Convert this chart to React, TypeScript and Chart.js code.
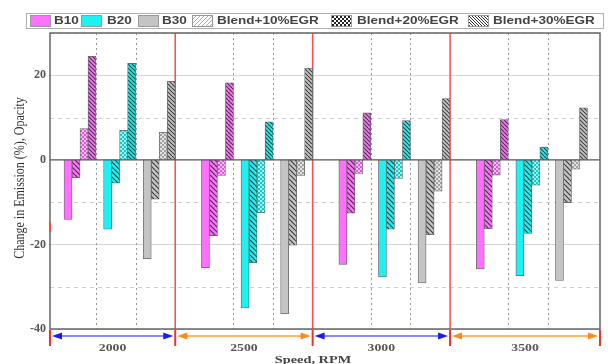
import React, { useEffect, useRef } from 'react';
import { Chart, registerables } from 'chart.js';
Chart.register(...registerables);

// ---- data ----
const speeds = ['2000', '2500', '3000', '3500'];
const fuels = ['B10', 'B20', 'B30'];
const seriesLabels = ['Blend', 'Blend+10%EGR', 'Blend+20%EGR', 'Blend+30%EGR'];
// values ordered: speed 2000 (B10,B20,B30), 2500 (...), 3000 (...), 3500 (...)
const blendOnly = [-14.1, -16.4, -23.4, -25.5, -35.0, -36.4, -24.7, -27.7, -29.1, -25.8, -27.4, -28.5];
const blendEgr10 = [-4.2, -5.5, -9.3, -17.9, -24.3, -20.2, -12.6, -16.4, -17.7, -16.3, -17.4, -10.1];
const blendEgr20 = [7.4, 7.0, 6.5, -3.7, -12.5, -3.7, -3.2, -4.4, -7.4, -3.6, -6.0, -2.2];
const blendEgr30 = [24.5, 22.8, 18.6, 18.2, 9.0, 21.7, 11.1, 9.3, 14.5, 9.5, 3.0, 12.3];
const yMin = -40;
const yMax = 30;
const yStep = 10;

// ---- styling / layout ----
const fuelColors = ['#ff70ff', '#1cf2f2', '#c4c4c4'];
const GROUP_STEP = 3.47;
const X_MIN = -0.758;
const X_MAX = 13.13;
const BAR_PX = 8;

function makeCanvas(s: number) {
  const c = document.createElement('canvas');
  c.width = s;
  c.height = s;
  return c;
}

function hatchPattern(base: string | null, s: number, color: string, lw: number, dir: 'back' | 'fwd') {
  const c = makeCanvas(s);
  const x = c.getContext('2d')!;
  if (base) {
    x.fillStyle = base;
    x.fillRect(0, 0, s, s);
  } else {
    x.fillStyle = '#fff';
    x.fillRect(0, 0, s, s);
  }
  x.strokeStyle = color;
  x.lineWidth = lw;
  x.beginPath();
  for (let k = -1; k <= 2; k++) {
    if (dir === 'back') {
      x.moveTo(0, k * s);
      x.lineTo(s, k * s + s);
    } else {
      x.moveTo(0, k * s);
      x.lineTo(s, k * s - s);
    }
  }
  x.stroke();
  return x.createPattern(c, 'repeat')!;
}

function checkerPattern(base: string, light: boolean) {
  const c = makeCanvas(4);
  const x = c.getContext('2d')!;
  x.fillStyle = base;
  x.fillRect(0, 0, 4, 4);
  if (light) {
    x.fillStyle = 'rgba(255,255,255,0.5)';
    x.fillRect(0, 0, 2, 2);
    x.fillRect(2, 2, 2, 2);
    x.fillStyle = 'rgba(60,60,60,0.25)';
    x.fillRect(2, 0, 2, 2);
    x.fillRect(0, 2, 2, 2);
  } else {
    x.fillStyle = '#222';
    x.fillRect(0, 0, 2, 2);
    x.fillRect(2, 2, 2, 2);
  }
  return x.createPattern(c, 'repeat')!;
}

function stretchedText(
  ctx: CanvasRenderingContext2D,
  text: string,
  x: number,
  y: number,
  font: string,
  color: string,
  align: 'left' | 'center',
  sx: number
) {
  ctx.save();
  ctx.font = font;
  ctx.fillStyle = color;
  ctx.textBaseline = 'middle';
  ctx.textAlign = 'left';
  const w = ctx.measureText(text).width * sx;
  const left = align === 'center' ? x - w / 2 : x;
  ctx.translate(left, y);
  ctx.scale(sx, 1);
  ctx.fillText(text, 0, 0);
  ctx.restore();
}

export default function App() {
  const ref = useRef<HTMLCanvasElement>(null);

  useEffect(() => {
    const canvas = ref.current!;
    const valueSets = [blendOnly, blendEgr10, blendEgr20, blendEgr30];
    const xPos = (i: number) => Math.floor(i / fuels.length) * GROUP_STEP + (i % fuels.length);

    const barFill = (series: number, fuel: number) => {
      const base = fuelColors[fuel];
      if (series === 0) return base;
      if (series === 1) return hatchPattern(base, 5, 'rgba(40,40,40,0.85)', 1.2, 'back');
      if (series === 2) return checkerPattern(base, true);
      return hatchPattern(base, 4, 'rgba(40,40,40,0.85)', 1.1, 'back');
    };

    const datasets = valueSets.map((vals, si) => ({
      label: seriesLabels[si],
      data: vals.map((v, i) => ({ x: xPos(i), y: v })),
      backgroundColor: vals.map((_, i) => barFill(si, i % fuels.length)),
      borderColor: '#666',
      borderWidth: 0.8,
      barThickness: BAR_PX,
    }));

    const legendSwatches: (string | CanvasPattern)[] = [
      fuelColors[0],
      fuelColors[1],
      fuelColors[2],
      hatchPattern(null, 4, '#aaa', 1, 'fwd'),
      checkerPattern('#fff', false),
      hatchPattern(null, 3, '#333', 1, 'back'),
    ];
    const legendTexts = [...fuels, ...seriesLabels.slice(1)];
    const swatchX = [30, 81, 138, 192, 331, 468];
    const textX = [54, 107, 162, 217, 357, 493];

    const deco = {
      id: 'deco',
      beforeDatasetsDraw(chart: any) {
        const { ctx, chartArea: a, scales } = chart;
        const ys = scales.y;
        const xs = scales.x;
        ctx.save();
        // horizontal grid
        ys.ticks.forEach((t: any) => {
          const v = t.value;
          if (v === 0) return;
          const py = Math.round(ys.getPixelForValue(v)) + 0.5;
          ctx.beginPath();
          if (v % 20 === 0) {
            ctx.setLineDash([]);
            ctx.strokeStyle = '#d6d6d6';
          } else {
            ctx.setLineDash([4, 4]);
            ctx.strokeStyle = '#d0d0d0';
          }
          ctx.lineWidth = 1;
          ctx.moveTo(a.left, py);
          ctx.lineTo(a.right, py);
          ctx.stroke();
        });
        // vertical separators
        const half = (BAR_PX * valueSets.length) / 2;
        for (let g = 0; g < speeds.length; g++) {
          for (let s = 0; s < fuels.length; s++) {
            const px = xs.getPixelForValue(g * GROUP_STEP + s) + half;
            if (s < fuels.length - 1) {
              ctx.setLineDash([2, 3]);
              ctx.strokeStyle = '#999';
              ctx.lineWidth = 1;
              ctx.beginPath();
              ctx.moveTo(Math.round(px) + 0.5, a.top);
              ctx.lineTo(Math.round(px) + 0.5, a.bottom);
              ctx.stroke();
            } else if (g < speeds.length - 1) {
              ctx.setLineDash([]);
              ctx.strokeStyle = '#ff4a4a';
              ctx.lineWidth = 1.5;
              ctx.beginPath();
              ctx.moveTo(px, a.top);
              ctx.lineTo(px, a.bottom);
              ctx.stroke();
            }
          }
        }
        ctx.restore();
      },
      afterDatasetsDraw(chart: any) {
        const { ctx, chartArea: a, scales } = chart;
        const ys = scales.y;
        ctx.save();
        const p0 = ys.getPixelForValue(0);
        ctx.strokeStyle = '#555';
        ctx.lineWidth = 1.3;
        ctx.beginPath();
        ctx.moveTo(a.left, p0);
        ctx.lineTo(a.right, p0);
        ctx.stroke();
        ctx.restore();
      },
      afterDraw(chart: any) {
        const { ctx, chartArea: a, scales } = chart;
        const xs = scales.x;
        ctx.save();
        // frame
        ctx.strokeStyle = '#666';
        ctx.lineWidth = 1.5;
        ctx.strokeRect(a.left, a.top, a.right - a.left, a.bottom - a.top);

        // small red marker on y axis
        ctx.strokeStyle = '#ff4040';
        ctx.lineWidth = 2;
        ctx.beginPath();
        ctx.moveTo(a.left, 222);
        ctx.lineTo(a.left, 232);
        ctx.stroke();

        // group boundaries
        const half = (BAR_PX * valueSets.length) / 2;
        const bounds = [a.left];
        for (let g = 0; g < speeds.length - 1; g++) {
          bounds.push(xs.getPixelForValue(g * GROUP_STEP + fuels.length - 1) + half);
        }
        bounds.push(a.right);

        const ay = 336;
        for (let g = 0; g < speeds.length; g++) {
          const l = bounds[g] + 2;
          const r = bounds[g + 1] - 2;
          const blue = g % 2 === 0;
          ctx.strokeStyle = blue ? '#8a8aff' : '#ffb56a';
          ctx.lineWidth = 2;
          ctx.beginPath();
          ctx.moveTo(l + 4, ay);
          ctx.lineTo(r - 4, ay);
          ctx.stroke();
          ctx.fillStyle = blue ? '#1c1cf0' : '#ff8a1a';
          ctx.beginPath();
          ctx.moveTo(l, ay);
          ctx.lineTo(l + 10, ay - 3.5);
          ctx.lineTo(l + 10, ay + 3.5);
          ctx.closePath();
          ctx.fill();
          ctx.beginPath();
          ctx.moveTo(r, ay);
          ctx.lineTo(r - 10, ay - 3.5);
          ctx.lineTo(r - 10, ay + 3.5);
          ctx.closePath();
          ctx.fill();
          stretchedText(ctx, speeds[g], (bounds[g] + bounds[g + 1]) / 2, 348, 'bold 11px "Liberation Serif"', '#555', 'center', 1.25);
        }
        ctx.strokeStyle = '#ee3030';
        ctx.lineWidth = 2;
        bounds.forEach((b) => {
          ctx.beginPath();
          ctx.moveTo(b, a.bottom + 1);
          ctx.lineTo(b, 346);
          ctx.stroke();
        });

        stretchedText(ctx, 'Speed, RPM', 313, 360, 'bold 11px "Liberation Serif"', '#444', 'center', 1.3);

        // y title
        ctx.save();
        ctx.translate(20, 178);
        ctx.rotate(-Math.PI / 2);
        ctx.scale(1, 1.25);
        ctx.font = '12px "Liberation Serif"';
        ctx.fillStyle = '#333';
        ctx.textAlign = 'center';
        ctx.textBaseline = 'middle';
        ctx.fillText('Change in Emission (%), Opacity', 0, 0);
        ctx.restore();

        // legend
        ctx.fillStyle = '#fff';
        ctx.fillRect(26, 13, 577, 15);
        ctx.strokeStyle = '#b0b0b0';
        ctx.lineWidth = 1;
        ctx.strokeRect(26.5, 13.5, 577, 15);
        legendTexts.forEach((t, i) => {
          ctx.fillStyle = legendSwatches[i] as any;
          ctx.fillRect(swatchX[i], 15, 20, 11);
          ctx.strokeStyle = '#999';
          ctx.strokeRect(swatchX[i] + 0.5, 15.5, 20, 11);
          stretchedText(ctx, t, textX[i], 21, 'bold 11px "Liberation Sans"', '#444', 'left', 1.23);
        });
        ctx.restore();
      },
    };

    const chart = new Chart(canvas, {
      type: 'bar',
      data: { datasets: datasets as any },
      options: {
        animation: false,
        responsive: false,
        devicePixelRatio: 1,
        events: [],
        layout: { padding: { left: 0, right: 8, top: 33, bottom: 35 } },
        plugins: { legend: { display: false }, tooltip: { enabled: false } },
        scales: {
          x: {
            type: 'linear',
            min: X_MIN,
            max: X_MAX,
            offset: false,
            display: false,
          },
          y: {
            min: yMin,
            max: yMax,
            grid: { display: false, drawTicks: false },
            border: { display: false },
            afterFit: (s: any) => {
              s.width = 50;
            },
            ticks: {
              stepSize: yStep,
              padding: 4,
              color: '#555',
              font: { family: '"Liberation Serif"', size: 12, weight: 'bold' },
              callback: (v: any) => (Number(v) % 20 === 0 ? String(v) : ''),
            },
          },
        },
      },
      plugins: [deco],
    });
    return () => chart.destroy();
  }, []);

  return (
    <div style={{ position: 'fixed', left: 0, top: 0, width: 608, height: 364, background: '#fff' }}>
      <canvas ref={ref} width={608} height={364} style={{ display: 'block' }} />
    </div>
  );
}
